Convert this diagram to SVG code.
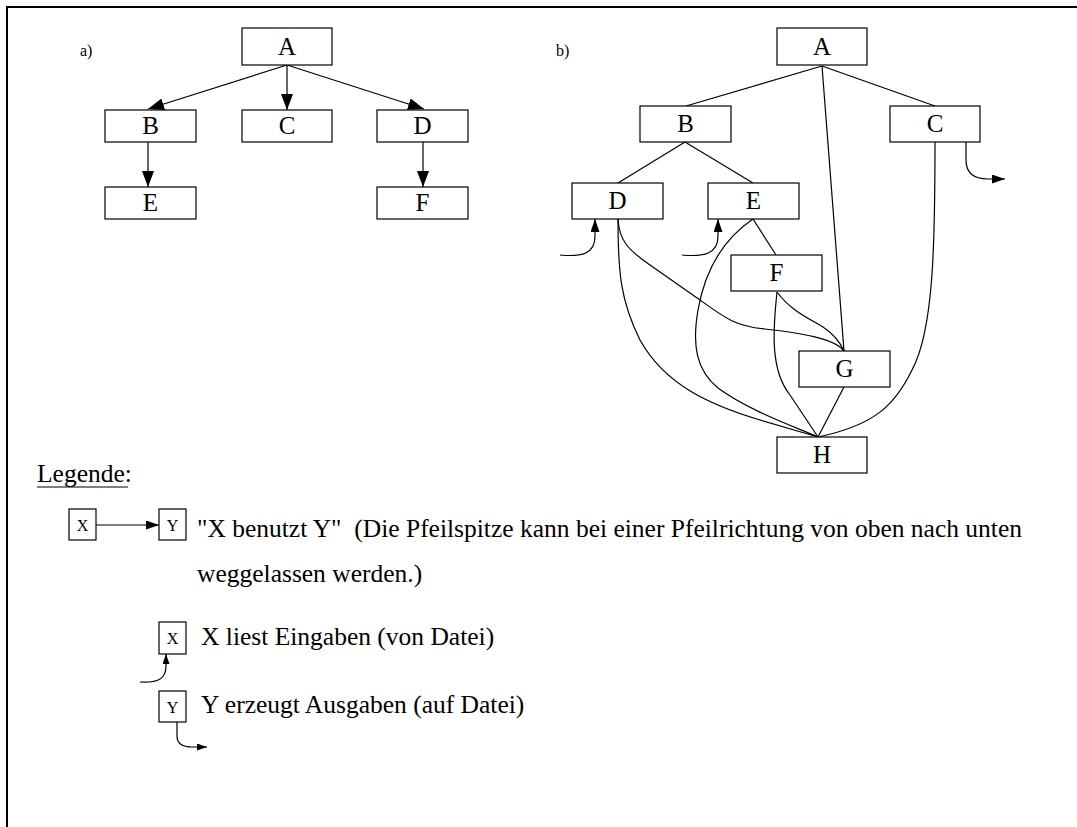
<svg xmlns="http://www.w3.org/2000/svg" width="1077" height="827" viewBox="0 0 1077 827">
  <style>
    text { font-family: 'Liberation Serif', 'DejaVu Serif', serif; fill: #000; }
    .box { fill: #fff; stroke: #000; stroke-width: 1.2; }
    .lbl { font-size: 25px; text-anchor: middle; }
    .sl { font-size: 16px; text-anchor: middle; }
    .txt { font-size: 25.5px; }
    .tag { font-size: 16px; }
    .edge { fill: none; stroke: #000; stroke-width: 1.2; }
  </style>
  <defs>
    <marker id="big" markerUnits="userSpaceOnUse" markerWidth="17" markerHeight="13" refX="16" refY="6" orient="auto">
      <path d="M0,0 L16,6 L0,12 z" fill="#000"/>
    </marker>
    <marker id="small" markerUnits="userSpaceOnUse" markerWidth="14" markerHeight="10" refX="13" refY="4.5" orient="auto">
      <path d="M0,0 L13,4.5 L0,9 z" fill="#000"/>
    </marker>
    <marker id="tiny" markerUnits="userSpaceOnUse" markerWidth="12" markerHeight="8" refX="10" refY="3.5" orient="auto">
      <path d="M0,0 L10,3.5 L0,7 z" fill="#000"/>
    </marker>
  </defs>

  <rect x="7" y="7" width="1090" height="840" fill="none" stroke="#000" stroke-width="2"/>

  <!-- panel a -->
  <text class="tag" x="80" y="56">a)</text>
  <g id="connectors-a">
    <line class="edge" x1="287" y1="65" x2="148" y2="109" marker-end="url(#big)"/>
    <line class="edge" x1="287" y1="65" x2="287" y2="110" marker-end="url(#big)"/>
    <line class="edge" x1="287" y1="65" x2="424" y2="109" marker-end="url(#big)"/>
    <line class="edge" x1="148" y1="142" x2="148" y2="187" marker-end="url(#big)"/>
    <line class="edge" x1="423" y1="142" x2="423" y2="187" marker-end="url(#big)"/>
  </g>
  <g id="a-A"><rect class="box" x="242" y="28" width="90" height="37"/><text class="lbl" x="287" y="55">A</text></g>
  <g id="a-B"><rect class="box" x="105" y="110" width="91" height="32"/><text class="lbl" x="150.5" y="134">B</text></g>
  <g id="a-C"><rect class="box" x="242" y="110" width="90" height="32"/><text class="lbl" x="287" y="134">C</text></g>
  <g id="a-D"><rect class="box" x="377" y="110" width="91" height="32"/><text class="lbl" x="422.5" y="134">D</text></g>
  <g id="a-E"><rect class="box" x="105" y="187" width="91" height="32"/><text class="lbl" x="150.5" y="211">E</text></g>
  <g id="a-F"><rect class="box" x="377" y="187" width="91" height="32"/><text class="lbl" x="422.5" y="211">F</text></g>

  <!-- panel b -->
  <text class="tag" x="556" y="56">b)</text>
  <g id="connectors-b">
    <line class="edge" x1="822" y1="66" x2="686" y2="106"/>
    <line class="edge" x1="822" y1="66" x2="935" y2="106"/>
    <line class="edge" x1="822" y1="66" x2="844" y2="351"/>
    <line class="edge" x1="685" y1="142" x2="618" y2="183"/>
    <line class="edge" x1="685" y1="142" x2="753" y2="183"/>
    <line class="edge" x1="753" y1="219" x2="776" y2="255"/>
    <line class="edge" x1="844" y1="387" x2="818" y2="437"/>
    <!-- C to H -->
    <path class="edge" d="M935,142 C935,240 934,330 912,370 C895,405 875,425 818,437"/>
    <!-- D to H -->
    <path class="edge" d="M618,219 C618,270 620,300 640,340 C665,385 710,405 760,420 L818,437"/>
    <!-- D to G -->
    <path class="edge" d="M618,219 C619,240 628,250 650,265 L700,300 C725,318 735,326 765,329 C800,333 834,338 844,351"/>
    <!-- E to H -->
    <path class="edge" d="M753,219 C722,240 705,270 698,310 C692,345 696,370 718,388 C748,410 790,425 818,437"/>
    <!-- F to G -->
    <path class="edge" d="M777,292 C790,310 808,318 823,327 C835,335 840,342 844,351"/>
    <!-- F to H -->
    <path class="edge" d="M777,292 C773,330 770,370 790,395 L818,437"/>
    <!-- file input/output -->
    <path class="edge" d="M560,255 C582,257 595,254 595,236 L595,219" marker-end="url(#small)"/>
    <path class="edge" d="M682,255 C704,257 718,254 718,236 L718,219" marker-end="url(#small)"/>
    <path class="edge" d="M966,142 L966,160 C966,173 974,179 988,179 L1005,179" marker-end="url(#small)"/>
  </g>
  <g id="b-A"><rect class="box" x="777" y="28" width="90" height="37"/><text class="lbl" x="822" y="55">A</text></g>
  <g id="b-B"><rect class="box" x="640" y="106" width="91" height="36"/><text class="lbl" x="685.5" y="132">B</text></g>
  <g id="b-C"><rect class="box" x="890" y="106" width="90" height="36"/><text class="lbl" x="935" y="132">C</text></g>
  <g id="b-D"><rect class="box" x="572" y="183" width="91" height="36"/><text class="lbl" x="617.5" y="209">D</text></g>
  <g id="b-E"><rect class="box" x="708" y="183" width="91" height="36"/><text class="lbl" x="753.5" y="209">E</text></g>
  <g id="b-F"><rect class="box" x="731" y="255" width="91" height="36"/><text class="lbl" x="776.5" y="281">F</text></g>
  <g id="b-G"><rect class="box" x="799" y="351" width="91" height="36"/><text class="lbl" x="844.5" y="377">G</text></g>
  <g id="b-H"><rect class="box" x="777" y="437" width="90" height="36"/><text class="lbl" x="822" y="463">H</text></g>

  <!-- legend -->
  <g id="legend">
    <text class="txt" x="37" y="482">Legende:</text>
    <line x1="37" y1="487" x2="128" y2="487" stroke="#000" stroke-width="1"/>

    <g id="leg-uses">
      <line class="edge" x1="96" y1="525" x2="159" y2="525" marker-end="url(#small)"/>
      <rect class="box" x="69" y="509" width="27" height="31"/><text class="sl" x="82.5" y="531">X</text>
      <rect class="box" x="159" y="509" width="27" height="31"/><text class="sl" x="172.5" y="531">Y</text>
      <text class="txt" x="197" y="537" xml:space="preserve">"X benutzt Y"  (Die Pfeilspitze kann bei einer Pfeilrichtung von oben nach unten</text>
      <text class="txt" x="197" y="582">weggelassen werden.)</text>
    </g>

    <g id="leg-input">
      <rect class="box" x="159" y="622" width="27" height="32"/><text class="sl" x="172.5" y="644">X</text>
      <path class="edge" d="M140,682 C158,683 166,679 166,666 L166,654" marker-end="url(#tiny)"/>
      <text class="txt" x="201" y="645">X liest Eingaben (von Datei)</text>
    </g>

    <g id="leg-output">
      <rect class="box" x="159" y="691" width="27" height="31"/><text class="sl" x="172.5" y="713">Y</text>
      <path class="edge" d="M177,722 L177,736 C177,743 182,747 192,747 L207,747" marker-end="url(#tiny)"/>
      <text class="txt" x="201" y="713">Y erzeugt Ausgaben (auf Datei)</text>
    </g>
  </g>
</svg>
